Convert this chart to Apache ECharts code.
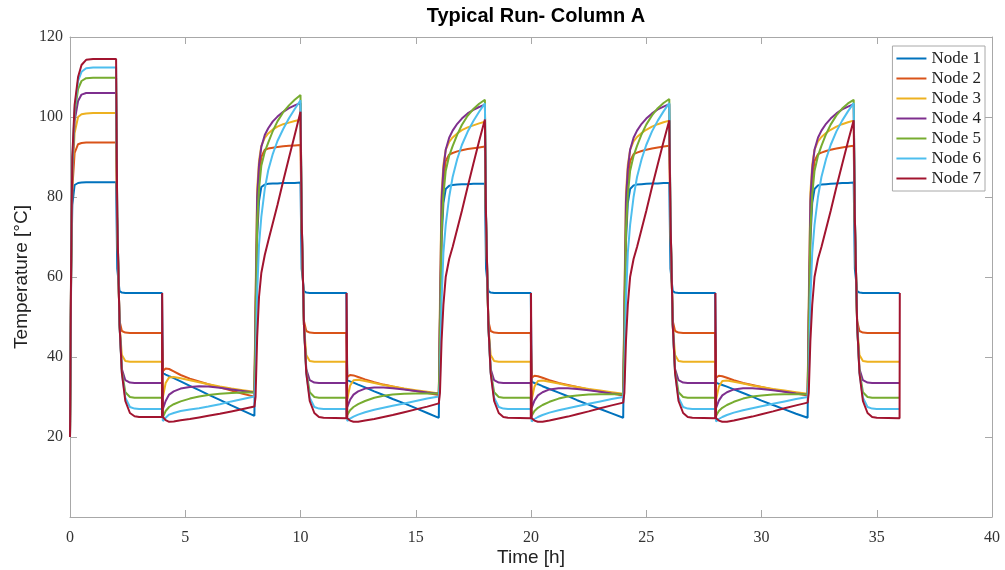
<!DOCTYPE html>
<html>
<head>
<meta charset="utf-8">
<title>Typical Run- Column A</title>
<script src="https://cdn.jsdelivr.net/npm/echarts@6/dist/echarts.min.js"></script>
<style>
  html, body { margin: 0; padding: 0; background: #fff; }
  #chart { width: 1005px; height: 570px; }
</style>
</head>
<body>
<div id="chart"></div>
<script>
// time stamps [h]
var hours = [
  0, 0.05, 0.1, 0.2, 0.35, 0.5, 0.7, 1.0, 2.0,
  2.05, 2.15, 2.25, 2.4, 2.6, 2.8, 3.0, 3.99, 4.0,
  4.03, 4.15, 4.3, 4.5, 4.8, 5.2, 5.6, 6.0, 6.5, 7.0, 7.5, 8.0,
  8.05, 8.12, 8.2, 8.3, 8.45, 8.6, 8.8, 9.0, 9.25, 9.5, 9.75, 10.0,
  10.05, 10.15, 10.25, 10.4, 10.6, 10.8, 11.0, 11.99, 12.0,
  12.03, 12.15, 12.3, 12.5, 12.8, 13.2, 13.6, 14.0, 14.5, 15.0, 15.5, 16.0,
  16.05, 16.12, 16.2, 16.3, 16.45, 16.6, 16.8, 17.0, 17.25, 17.5, 17.75, 18.0,
  18.05, 18.15, 18.25, 18.4, 18.6, 18.8, 19.0, 19.99, 20.0,
  20.03, 20.15, 20.3, 20.5, 20.8, 21.2, 21.6, 22.0, 22.5, 23.0, 23.5, 24.0,
  24.05, 24.12, 24.2, 24.3, 24.45, 24.6, 24.8, 25.0, 25.25, 25.5, 25.75, 26.0,
  26.05, 26.15, 26.25, 26.4, 26.6, 26.8, 27.0, 27.99, 28.0,
  28.03, 28.15, 28.3, 28.5, 28.8, 29.2, 29.6, 30.0, 30.5, 31.0, 31.5, 32.0,
  32.05, 32.12, 32.2, 32.3, 32.45, 32.6, 32.8, 33.0, 33.25, 33.5, 33.75, 34.0,
  34.05, 34.15, 34.25, 34.4, 34.6, 34.8, 35.0, 35.99, 36.0
];

// temperatures [°C]
var node1 = [
  20, 60, 78, 83, 83.5, 83.6, 83.7, 83.7, 83.7,
  62, 56.5, 56.1, 56, 56, 56, 56, 56, 56,
  36, 35.6, 35.2, 34.7, 33.9, 32.8, 31.7, 30.6, 29.3, 27.9, 26.6, 25.3,
  50, 70, 79, 82.5, 83.1, 83.3, 83.4, 83.4, 83.5, 83.5, 83.5, 83.6,
  62, 56.5, 56.1, 56, 56, 56, 56, 56, 56,
  34.2, 33.9, 33.6, 33.1, 32.4, 31.4, 30.5, 29.5, 28.4, 27.2, 26.0, 24.8,
  49, 69, 78.5, 82, 82.8, 83.0, 83.1, 83.2, 83.2, 83.3, 83.3, 83.3,
  62, 56.5, 56.1, 56, 56, 56, 56, 56, 56,
  33.8, 33.5, 33.2, 32.7, 32.0, 31.1, 30.2, 29.2, 28.1, 27.0, 25.9, 24.8,
  49, 69, 78.5, 82, 82.9, 83.1, 83.2, 83.3, 83.4, 83.4, 83.5, 83.5,
  62, 56.5, 56.1, 56, 56, 56, 56, 56, 56,
  33.6, 33.3, 33.0, 32.6, 31.9, 31.0, 30.1, 29.1, 28.0, 26.9, 25.8, 24.8,
  49, 69, 78.5, 82, 82.9, 83.1, 83.2, 83.3, 83.4, 83.5, 83.5, 83.6,
  62, 56.5, 56.1, 56, 56, 56, 56, 56, 56
];
var node2 = [
  20, 62, 82, 91, 93.2, 93.5, 93.6, 93.6, 93.6,
  72, 49, 46.5, 46.1, 46, 46, 46, 46, 46,
  36.5, 37.1, 37.0, 36.4, 35.5, 34.6, 33.9, 33.2, 32.4, 31.6, 30.8, 30.1,
  50, 72, 85, 90, 91.8, 92.1, 92.3, 92.5, 92.7, 92.8, 92.9, 93.0,
  72, 49, 46.5, 46.1, 46, 46, 46, 46, 46,
  35.0, 35.5, 35.4, 35.0, 34.4, 33.7, 33.1, 32.6, 32.0, 31.5, 31.0, 30.5,
  49, 71, 84, 89, 90.6, 91.0, 91.4, 91.7, 92.0, 92.2, 92.4, 92.6,
  72, 49, 46.5, 46.1, 46, 46, 46, 46, 46,
  34.8, 35.3, 35.2, 34.8, 34.2, 33.5, 33.0, 32.5, 31.9, 31.4, 30.9, 30.4,
  49, 71, 84, 89, 90.7, 91.1, 91.5, 91.8, 92.1, 92.4, 92.6, 92.8,
  72, 49, 46.5, 46.1, 46, 46, 46, 46, 46,
  34.8, 35.3, 35.2, 34.8, 34.2, 33.5, 33.0, 32.5, 31.9, 31.4, 30.9, 30.4,
  49, 71, 84, 89, 90.7, 91.1, 91.5, 91.8, 92.1, 92.4, 92.6, 92.8,
  72, 49, 46.5, 46.1, 46, 46, 46, 46, 46
];
var node3 = [
  20, 63, 85, 96, 100, 100.7, 100.9, 101, 101,
  74, 48, 40.5, 39.0, 38.8, 38.8, 38.8, 38.8, 38.8,
  30, 33.5, 34.9, 35.0, 34.7, 34.2, 33.7, 33.2, 32.6, 32.1, 31.7, 31.3,
  55, 82, 89, 92.8, 94.8, 95.9, 96.9, 97.6, 98.2, 98.6, 99.0, 99.3,
  74, 48, 40.5, 39.0, 38.8, 38.8, 38.8, 38.8, 38.8,
  29.5, 32.8, 34.2, 34.3, 34.0, 33.5, 33.0, 32.6, 32.1, 31.7, 31.3, 30.9,
  54, 81, 88, 91.8, 93.8, 94.9, 95.9, 96.7, 97.4, 97.9, 98.4, 98.8,
  74, 48, 40.5, 39.0, 38.8, 38.8, 38.8, 38.8, 38.8,
  29.3, 32.6, 34.0, 34.1, 33.8, 33.4, 32.9, 32.5, 32.0, 31.6, 31.2, 30.8,
  54, 81, 88, 91.8, 93.9, 95.0, 96.0, 96.8, 97.6, 98.2, 98.7, 99.1,
  74, 48, 40.5, 39.0, 38.8, 38.8, 38.8, 38.8, 38.8,
  29.3, 32.6, 34.0, 34.1, 33.8, 33.4, 32.9, 32.5, 32.0, 31.6, 31.2, 30.8,
  54, 81, 88, 91.8, 93.9, 95.0, 96.0, 96.8, 97.6, 98.2, 98.7, 99.1,
  74, 48, 40.5, 39.0, 38.8, 38.8, 38.8, 38.8, 38.8
];
var node4 = [
  20, 63, 87, 99, 104, 105.6, 106, 106, 106,
  75, 48, 37, 34.2, 33.6, 33.5, 33.5, 33.5, 33.5,
  27, 29, 30.6, 31.4, 32.1, 32.5, 32.7, 32.6, 32.3, 31.9, 31.5, 31.1,
  52, 80, 88, 92.5, 95.5, 97.2, 98.9, 100.1, 101.3, 102.2, 102.9, 103.5,
  75, 48, 37, 34.2, 33.6, 33.5, 33.5, 33.5, 33.5,
  27.5, 29.3, 30.6, 31.4, 32.1, 32.4, 32.4, 32.2, 31.9, 31.5, 31.1, 30.8,
  51, 79, 87, 91.8, 94.8, 96.6, 98.3, 99.6, 100.9, 101.8, 102.5, 103.1,
  75, 48, 37, 34.2, 33.6, 33.5, 33.5, 33.5, 33.5,
  27.3, 29.1, 30.4, 31.2, 31.9, 32.2, 32.2, 32.0, 31.7, 31.3, 30.9, 30.6,
  51, 79, 87, 91.8, 94.8, 96.6, 98.3, 99.6, 100.9, 101.9, 102.6, 103.2,
  75, 48, 37, 34.2, 33.6, 33.5, 33.5, 33.5, 33.5,
  27.3, 29.1, 30.4, 31.2, 31.9, 32.2, 32.2, 32.0, 31.7, 31.3, 30.9, 30.6,
  51, 79, 87, 91.8, 94.8, 96.6, 98.3, 99.6, 100.9, 101.9, 102.6, 103.2,
  75, 48, 37, 34.2, 33.6, 33.5, 33.5, 33.5, 33.5
];
var node5 = [
  20, 64, 88, 101, 107, 109, 109.7, 109.8, 109.8,
  75, 48, 36.5, 31.2, 30.0, 29.8, 29.8, 29.8, 29.8,
  25, 26.5, 27.5, 28.2, 28.9, 29.6, 30.1, 30.5, 30.8, 31.0, 31.1, 31.1,
  45, 74, 82, 87.8, 91.3, 93.6, 96.5, 98.9, 101.2, 102.9, 104.3, 105.5,
  75, 48, 36.5, 31.2, 30.0, 29.8, 29.8, 29.8, 29.8,
  25.5, 26.7, 27.5, 28.2, 29.0, 29.8, 30.3, 30.6, 30.8, 30.9, 30.9, 30.9,
  44, 72, 80.5, 86.5, 90.3, 92.7, 95.6, 98, 100.3, 102, 103.3, 104.3,
  75, 48, 36.5, 31.2, 30.0, 29.8, 29.8, 29.8, 29.8,
  25.3, 26.5, 27.3, 28.0, 28.8, 29.6, 30.1, 30.4, 30.6, 30.7, 30.7, 30.7,
  44, 72, 80.5, 86.5, 90.3, 92.8, 95.7, 98.1, 100.4, 102.2, 103.5, 104.5,
  75, 48, 36.5, 31.2, 30.0, 29.8, 29.8, 29.8, 29.8,
  25.3, 26.5, 27.3, 28.0, 28.8, 29.6, 30.1, 30.4, 30.6, 30.7, 30.7, 30.7,
  44, 72, 80.5, 86.5, 90.3, 92.8, 95.7, 98.1, 100.4, 102.1, 103.4, 104.3,
  75, 48, 36.5, 31.2, 30.0, 29.8, 29.8, 29.8, 29.8
];
var node6 = [
  20, 64, 89, 102, 109, 111.3, 112.2, 112.4, 112.4,
  75, 48, 36, 29.8, 27.5, 27.1, 27.0, 27.0, 27.0,
  24, 24.8, 25.6, 26.0, 26.5, 26.9, 27.2, 27.6, 28.2, 28.9, 29.5, 30.1,
  35, 56, 68, 75, 82, 86.7, 90.8, 94, 97, 99.7, 102, 104.2,
  75, 48, 36, 29.8, 27.5, 27.1, 27.0, 27.0, 27.0,
  24.0, 24.6, 25.1, 25.6, 26.2, 26.8, 27.3, 27.8, 28.4, 29.0, 29.6, 30.1,
  34, 54, 66, 73, 80, 85, 89.5, 93, 96.3, 99.0, 101.3, 103.4,
  75, 48, 36, 29.8, 27.5, 27.1, 27.0, 27.0, 27.0,
  23.9, 24.5, 25.0, 25.5, 26.1, 26.7, 27.2, 27.7, 28.3, 28.9, 29.5, 30.0,
  34, 54, 66, 73, 80, 85, 89.5, 93, 96.4, 99.1, 101.4, 103.5,
  75, 48, 36, 29.8, 27.5, 27.1, 27.0, 27.0, 27.0,
  23.9, 24.5, 25.0, 25.5, 26.1, 26.7, 27.2, 27.7, 28.3, 28.9, 29.5, 30.0,
  34, 54, 66, 73, 80, 85, 89.5, 93, 96.4, 99.1, 101.4, 103.5,
  75, 48, 36, 29.8, 27.5, 27.1, 27.0, 27.0, 27.0
];
var node7 = [
  20, 65, 90, 103, 110, 113, 114.3, 114.5, 114.5,
  75, 48, 36, 29, 26, 25.2, 25.0, 25.0, 56,
  25, 24.2, 23.8, 23.9, 24.2, 24.5, 24.9, 25.3, 25.8, 26.4, 27.0, 27.6,
  30, 45, 55, 61, 65.5, 69, 73.5, 78, 84, 89.8, 95.5, 101.3,
  75, 48, 36, 29, 26, 25.0, 24.8, 24.7, 56,
  24.7, 24.1, 23.8, 23.8, 24.1, 24.5, 25.0, 25.5, 26.2, 26.9, 27.6, 28.4,
  31, 44, 53, 60, 64.5, 67.5, 72, 76.5, 82.5, 88.3, 94, 99.4,
  75, 48, 36, 29, 26, 25.0, 24.8, 24.7, 56,
  24.7, 24.1, 23.8, 23.8, 24.1, 24.6, 25.1, 25.7, 26.4, 27.2, 27.9, 28.6,
  31, 44, 53, 60, 64.5, 67.5, 72, 76.5, 82.5, 88.2, 93.8, 99.2,
  75, 48, 36, 29, 26, 25.0, 24.8, 24.7, 56,
  24.7, 24.1, 23.8, 23.8, 24.1, 24.6, 25.1, 25.7, 26.4, 27.2, 27.9, 28.6,
  31, 44, 53, 60, 64.5, 67.5, 72, 76.5, 82.5, 88.2, 93.8, 99.2,
  75, 48, 36, 29, 26, 25.0, 24.8, 24.7, 56
];

var nodeNames = ['Node 1', 'Node 2', 'Node 3', 'Node 4', 'Node 5', 'Node 6', 'Node 7'];
var nodeValues = [node1, node2, node3, node4, node5, node6, node7];
// matlab default colour order
var nodeColors = ['#0072BD', '#D95319', '#EDB120', '#7E2F8E', '#77AC30', '#4DBEEE', '#A2142F'];

var axisGrey = '#a8a8a8';
var labelFont = 'Liberation Serif';

var myChart = echarts.init(document.getElementById('chart'));

var series = nodeValues.map(function (vals, k) {
  return {
    name: nodeNames[k],
    type: 'line',
    showSymbol: false,
    color: nodeColors[k],
    lineStyle: { width: 2 },
    data: hours.map(function (t, i) { return [t, vals[i]]; })
  };
});

// box round the plot: the second x/y axes only draw the top/right edge and ticks
function boxAxis(pos, max, step) {
  return {
    type: 'value',
    position: pos,
    min: 0,
    max: max,
    interval: step,
    axisLine: { show: true, onZero: false, lineStyle: { color: axisGrey } },
    axisTick: { show: true, inside: true, length: 7, lineStyle: { color: axisGrey } },
    axisLabel: { show: false },
    splitLine: { show: false }
  };
}

myChart.setOption({
  animation: false,
  backgroundColor: '#fff',
  title: {
    text: 'Typical Run- Column A',
    left: 531,
    top: 1,
    textAlign: 'center',
    textStyle: { fontFamily: 'Liberation Sans', fontWeight: 'bold', fontSize: 20, color: '#000' }
  },
  legend: {
    orient: 'vertical',
    right: 20,
    top: 46,
    data: nodeNames,
    icon: 'rect',
    itemWidth: 30,
    itemHeight: 2,
    itemGap: 3,
    padding: [4, 4, 4, 4],
    backgroundColor: '#fff',
    borderColor: axisGrey,
    borderWidth: 1,
    textStyle: { fontFamily: labelFont, fontSize: 17, lineHeight: 17, color: '#222' }
  },
  grid: { left: 70, right: 13, top: 37, bottom: 53, outerBoundsMode: 'none' },
  xAxis: [
    {
      type: 'value',
      min: 0,
      max: 40,
      interval: 5,
      name: 'Time [h]',
      nameLocation: 'middle',
      nameGap: 31,
      nameMoveOverlap: false,
      nameTextStyle: { fontFamily: 'Liberation Sans', fontSize: 19, color: '#222' },
      axisLine: { onZero: false, lineStyle: { color: axisGrey } },
      axisTick: { inside: true, length: 7, lineStyle: { color: axisGrey } },
      axisLabel: { fontFamily: labelFont, fontSize: 16, color: '#333', margin: 13 },
      splitLine: { show: false }
    },
    boxAxis('top', 40, 5)
  ],
  yAxis: [
    {
      type: 'value',
      min: 0,
      max: 120,
      interval: 20,
      name: 'Temperature [°C]',
      nameLocation: 'middle',
      nameGap: 39,
      nameMoveOverlap: false,
      nameTextStyle: { fontFamily: 'Liberation Sans', fontSize: 19, color: '#222' },
      axisLine: { show: true, onZero: false, lineStyle: { color: axisGrey } },
      axisTick: { show: true, inside: true, length: 7, lineStyle: { color: axisGrey } },
      axisLabel: {
        fontFamily: labelFont, fontSize: 16, color: '#333', margin: 7,
        formatter: function (v) { return v === 0 ? '' : v; }
      },
      splitLine: { show: false }
    },
    boxAxis('right', 120, 20)
  ],
  series: series
});
</script>
</body>
</html>
